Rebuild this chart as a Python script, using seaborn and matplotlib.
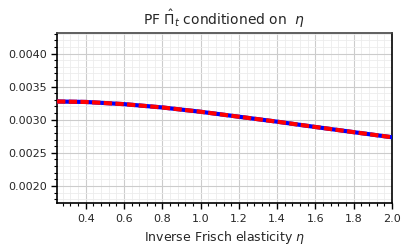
import numpy as np
import matplotlib
matplotlib.use("Agg")
import matplotlib.pyplot as plt
import seaborn as sns
import pandas as pd
from matplotlib.ticker import MultipleLocator

eta = [0.25, 0.4, 0.6, 0.8, 1.0, 1.2, 1.4, 1.6, 1.8, 2.0]
pi_hat = [0.003275, 0.003268, 0.003235, 0.003185, 0.003120, 0.003045, 0.002970, 0.002890, 0.002812, 0.002735]

df = pd.DataFrame({"eta": eta, "pi": pi_hat})

sns.set_style("ticks")
plt.rcParams['font.family'] = ['DejaVu Sans']
fig = plt.figure(figsize=(4.02, 2.48), dpi=100)
ax = fig.add_axes([0.142, 0.181, 0.833, 0.686])

sns.lineplot(data=df, x="eta", y="pi", ax=ax, color="blue", linewidth=3, zorder=3)
sns.lineplot(data=df, x="eta", y="pi", ax=ax, color="red", linewidth=3, linestyle=(0, (2.0, 0.8)), zorder=4)

ax.set_xlim(0.25, 2.0)
ax.set_ylim(0.00174, 0.00431)
ax.xaxis.set_major_locator(MultipleLocator(0.2))
ax.xaxis.set_minor_locator(MultipleLocator(0.04))
ax.yaxis.set_major_locator(MultipleLocator(0.0005))
ax.yaxis.set_minor_locator(MultipleLocator(0.0001))
ax.yaxis.set_major_formatter(matplotlib.ticker.FormatStrFormatter('%.4f'))
ax.grid(which='major', color='#cccccc', linewidth=0.8)
ax.grid(which='minor', color='#ececec', linewidth=0.6)
ax.set_axisbelow(True)
ax.tick_params(axis='both', which='major', labelsize=8, length=4, width=1, color='black')
ax.tick_params(axis='both', which='minor', length=2, width=0.8, color='black')
for s in ax.spines.values():
    s.set_linewidth(1.2)
    s.set_color('black')
ax.spines['top'].set_color('#444444')
ax.set_xlabel(r"Inverse Frisch elasticity $\eta$", fontsize=9)
ax.set_ylabel("")
ax.set_title(r"PF $\hat{\Pi}_t$ conditioned on  $\eta$", fontsize=10)

fig.savefig("out.png", dpi=100)
